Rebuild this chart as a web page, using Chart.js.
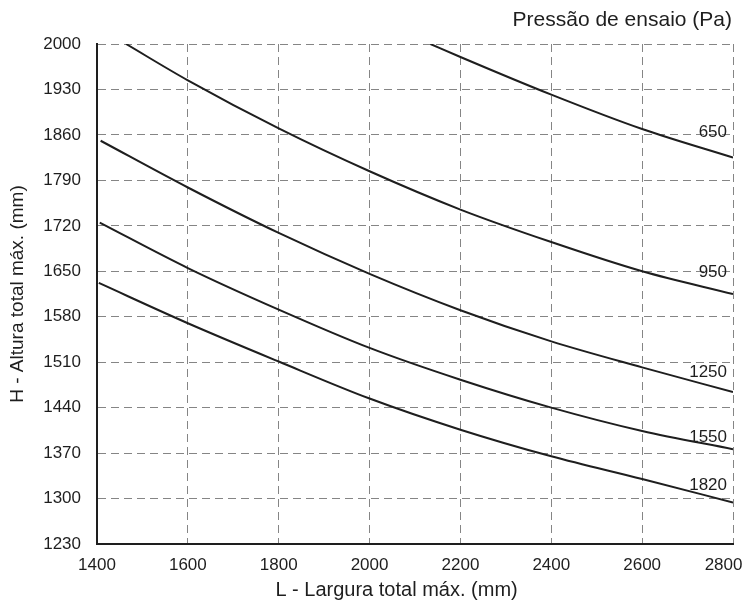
<!DOCTYPE html>
<html>
<head>
<meta charset="utf-8">
<script src="https://cdn.jsdelivr.net/npm/chart.js@4.4.1/dist/chart.umd.min.js"></script>
<style>
  html, body { margin: 0; padding: 0; background: #fff; }
  #wrap { width: 750px; height: 603px; position: relative; }
</style>
</head>
<body>
<div id="wrap"><canvas id="chart"></canvas></div>
<script>
// curves (L in mm, H in mm) for each test pressure
const pressures = ['650', '950', '1250', '1550', '1820'];

const widths650 = [2134, 2200, 2400, 2600, 2800];
const heights650 = [2000, 1980, 1922, 1869, 1825];

const widths950 = [1464, 1600, 1800, 2000, 2200, 2400, 2600, 2800];
const heights950 = [2000, 1944, 1870, 1804, 1745, 1695, 1650, 1615];

const widths1250 = [1408, 1600, 1800, 2000, 2200, 2400, 2600, 2800];
const heights1250 = [1851, 1779, 1709, 1646, 1590, 1542, 1502, 1464];

const widths1550 = [1406, 1600, 1800, 2000, 2200, 2400, 2600, 2800];
const heights1550 = [1725, 1655, 1591, 1532, 1483, 1440, 1404, 1376];

const widths1820 = [1404, 1600, 1800, 2000, 2200, 2400, 2600, 2800];
const heights1820 = [1632, 1570, 1511, 1454, 1406, 1365, 1330, 1294];

const xMin = 1400, xMax = 2800, xStep = 200;
const yMin = 1230, yMax = 2000, yStep = 70;

const xTitle = 'L - Largura total máx. (mm)';
const yTitle = 'H - Altura total máx. (mm)';
const legendTitle = 'Pressão de ensaio (Pa)';

function toPoints(xs, ys) {
    return xs.map(function (x, i) { return { x: x, y: ys[i] }; });
}

const allWidths = [widths650, widths950, widths1250, widths1550, widths1820];
const allHeights = [heights650, heights950, heights1250, heights1550, heights1820];

// label offset (px) above the curve end, right side
const labelOffsets = [-25, -22, -20, -12, -17];

const textFont = 'Liberation Sans, Arial, sans-serif';

const datasets = pressures.map(function (p, i) {
    return {
        label: p,
        data: toPoints(allWidths[i], allHeights[i]),
        showLine: true,
        borderColor: '#1e1e1e',
        borderWidth: 2,
        pointRadius: 0,
        cubicInterpolationMode: 'monotone',
        fill: false
    };
});

const curveLabels = {
    id: 'curveLabels',
    afterDatasetsDraw(chart) {
        const ctx = chart.ctx;
        const area = chart.chartArea;
        ctx.save();
        ctx.fillStyle = '#1e1e1e';
        ctx.font = '17px ' + textFont;
        ctx.textAlign = 'right';
        ctx.textBaseline = 'middle';
        chart.data.datasets.forEach(function (ds, i) {
            const meta = chart.getDatasetMeta(i);
            const last = meta.data[meta.data.length - 1];
            ctx.fillText(ds.label, area.right - 6, last.y + labelOffsets[i]);
        });
        // x axis title and the legend heading
        ctx.font = '20px ' + textFont;
        ctx.textAlign = 'center';
        ctx.fillText(xTitle, area.left + area.width * 0.471, 590);
        ctx.textAlign = 'right';
        ctx.font = '21px ' + textFont;
        ctx.fillText(legendTitle, area.right - 1, 20);
        ctx.restore();
    }
};

const ctx = document.getElementById('chart');
new Chart(ctx, {
    type: 'scatter',
    data: { datasets: datasets },
    plugins: [curveLabels],
    options: {
        responsive: true,
        maintainAspectRatio: false,
        animation: false,
        layout: { padding: { top: 44, right: 17, left: 0, bottom: 0 } },
        plugins: {
            legend: { display: false },
            tooltip: { enabled: false }
        },
        scales: {
            x: {
                type: 'linear',
                min: xMin,
                max: xMax,
                afterFit: function (scale) {
                    scale.height = 59;
                    scale.paddingLeft = 0;
                    scale.paddingRight = 0;
                },
                ticks: {
                    stepSize: xStep,
                    color: '#1e1e1e',
                    padding: 11,
                    maxRotation: 0,
                    font: { family: textFont, size: 17 },
                    // last label is pulled in so it stays on the canvas
                    callback: function (v) { return v === xMax ? v + '\u2007\u2007' : v; }
                },
                grid: {
                    color: '#858585',
                    lineWidth: 1,
                    drawTicks: false
                },
                border: { display: true, color: '#1e1e1e', width: 2, dash: [8, 5] },
                title: { display: false }
            },
            y: {
                type: 'linear',
                min: yMin,
                max: yMax,
                afterFit: function (scale) {
                    scale.width = 97;
                    scale.paddingTop = 0;
                    scale.paddingBottom = 0;
                },
                ticks: {
                    stepSize: yStep,
                    color: '#1e1e1e',
                    padding: 16,
                    font: { family: textFont, size: 17 },
                    callback: function (v) { return v; }
                },
                grid: {
                    color: '#858585',
                    lineWidth: 1,
                    drawTicks: false
                },
                border: { display: true, color: '#1e1e1e', width: 2, dash: [8, 5] },
                title: {
                    display: true,
                    text: yTitle,
                    color: '#1e1e1e',
                    font: { family: textFont, size: 19 },
                    padding: { top: 6, bottom: 0 }
                }
            }
        }
    }
});
</script>
</body>
</html>
